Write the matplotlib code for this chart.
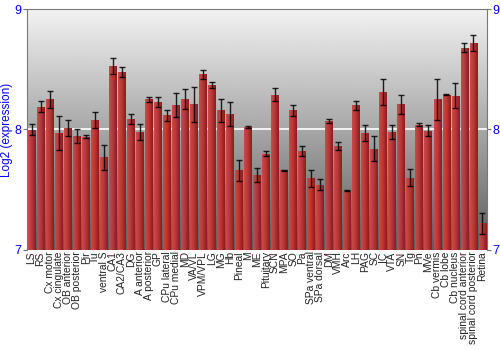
import numpy as np
import matplotlib
matplotlib.use("Agg")
import matplotlib.pyplot as plt

plt.rcParams['font.family'] = ['Liberation Sans', 'DejaVu Sans']

regions = ['LS', 'RS', 'Cx motor', 'Cx cingulate', 'OB anterior', 'OB posterior', 'Pir', 'Tu',
           'ventral S', 'CA1', 'CA2/CA3', 'DG', 'A anterior', 'A posterior', 'GP', 'CPu lateral',
           'CPu medial', 'MD', 'VA/VL', 'VPM/VPL', 'LG', 'MG', 'Hb', 'Pineal', 'M', 'ME',
           'Pituitary', 'SCN', 'MPA', 'SO', 'Pa', 'SPa ventral', 'SPa dorsal', 'DM', 'VMH', 'Arc',
           'LH', 'PAG', 'SC', 'IC', 'VTA', 'SN', 'Tg', 'Pn', 'MVe', 'Cb vermis', 'Cb lobe',
           'Cb nucleus', 'spinal cord anterior', 'spinal cord posterior', 'Retina']

expression = [8.00, 8.19, 8.25, 7.97, 8.015, 7.946, 7.94, 8.08,
              7.77, 8.53, 8.48, 8.085, 7.98, 8.25, 8.23, 8.12,
              8.20, 8.25, 8.21, 8.46, 8.37, 8.16, 8.13, 7.66, 8.02, 7.62,
              7.80, 8.29, 7.66, 8.16, 7.82, 7.595, 7.54, 8.07, 7.86, 7.49,
              8.20, 7.97, 7.84, 8.31, 7.98, 8.21, 7.60, 8.04, 7.99, 8.25, 8.29,
              8.28, 8.68, 8.72, 7.22]

err = [0.045, 0.047, 0.073, 0.14, 0.068, 0.058, 0.011, 0.068,
       0.105, 0.066, 0.041, 0.041, 0.065, 0.022, 0.04, 0.046,
       0.10, 0.083, 0.144, 0.037, 0.024, 0.094, 0.10, 0.086, 0.01, 0.06,
       0.02, 0.051, 0.005, 0.046, 0.041, 0.07, 0.046, 0.018, 0.033, 0.004,
       0.036, 0.066, 0.104, 0.107, 0.055, 0.079, 0.073, 0.012, 0.047, 0.17, 0.007,
       0.105, 0.035, 0.068, 0.084]

blue = '#0000ff'

fig = plt.figure(figsize=(5, 3.5), dpi=100)
ax = fig.add_axes([0.054, 0.286, 0.92, 0.688])

x = np.arange(len(regions))
ax.set_xlim(-0.5, len(regions) - 0.5)
ax.set_ylim(7, 9)

# background gradient, light at top, dark at bottom
bg = np.linspace(0.36, 0.95, 256).reshape(-1, 1)
ax.imshow(bg, cmap='gray', vmin=0, vmax=1, aspect='auto', origin='lower',
          extent=[-0.5, len(regions) - 0.5, 7, 9], zorder=0)
ax.axhline(8, color='white', lw=1.2, zorder=1)

bars = ax.bar(x, np.array(expression) - 7, bottom=7, width=0.86, color='#b03030',
              edgecolor='none', zorder=2)

# horizontal shading on each bar
shade = np.linspace(0, 1, 64).reshape(1, -1)
cmap = matplotlib.colors.LinearSegmentedColormap.from_list('barshade', ['#cc4a4a', '#b83636', '#8a1c1c'])
for b in bars:
    im = ax.imshow(shade, cmap=cmap, aspect='auto',
                   extent=[b.get_x(), b.get_x() + b.get_width(), 7, b.get_y() + b.get_height()],
                   zorder=3)
    im.set_clip_path(b)

ax.errorbar(x, expression, yerr=err, fmt='none', ecolor='black', elinewidth=1,
            capsize=2, capthick=1, alpha=0.85, zorder=4)

ax.set_xticks(x)
ax.set_xticklabels(regions, rotation=90, fontsize=7.4, color='#222222')
ax.tick_params(axis='x', length=0, pad=1)

ax.set_yticks([7, 8, 9])
ax.set_yticklabels(['7', '8', '9'], color=blue, fontsize=9)
ax.tick_params(axis='y', which='both', left=True, right=True, labelleft=True, labelright=True,
               length=3, color='#777777', pad=1)
ax.set_ylabel('Log2 (expression)', color=blue, fontsize=8.5, labelpad=1)

for side in ['left', 'right', 'top']:
    ax.spines[side].set_color('#777777')
ax.spines['bottom'].set_visible(False)

fig.savefig('out.png', dpi=100)
